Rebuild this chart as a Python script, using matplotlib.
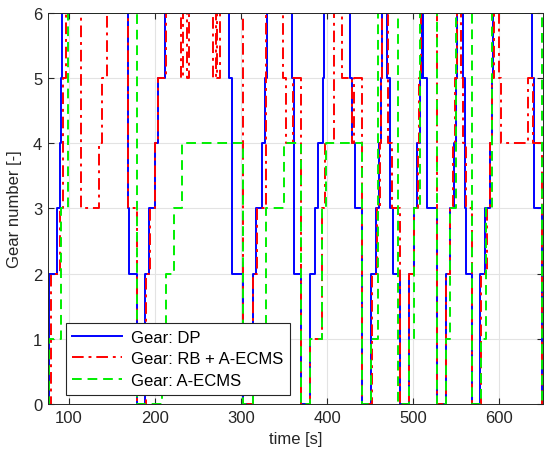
import numpy as np
import matplotlib
matplotlib.use("Agg")
import matplotlib.pyplot as plt

# gear change instants [s] and gear after each change
dp_t = [75, 76.5, 85.7, 89.5, 90.5, 91.5, 168.2, 170, 178.7, 188.8, 192.6, 199.6, 203.5, 212,
        286, 289.5, 302.7, 314.3, 317.4, 324.4, 327.9, 329.8, 359, 361.5, 370.3, 380.6, 385.7,
        389.5, 395, 396.5, 427, 429, 433, 440.5, 451.5, 456.6, 460.5, 462.5, 464, 470.2, 473,
        476.7, 484.3, 494.8, 501, 505, 508, 510.5, 512, 516, 528, 538.5, 542.8, 547.5, 549.5,
        551.5, 558, 560.5, 562, 568, 578, 583.7, 589.5, 592, 593.5, 638, 640.5, 649.5]
dp_gear = [0, 2, 3, 4, 5, 6, 3, 2, 0, 2, 3, 4, 5, 6,
           5, 2, 0, 2, 3, 4, 5, 6, 5, 2, 0, 2, 3,
           4, 5, 6, 5, 4, 3, 0, 2, 3, 4, 5, 6, 5, 3,
           2, 0, 2, 3, 4, 5, 6, 5, 3, 0, 2, 3, 4, 5,
           6, 5, 3, 2, 0, 2, 3, 4, 5, 6, 5, 3, 0]

rb_t = [75, 79.4, 89.5, 93, 96.5, 114.5, 135, 138, 144.5, 168.5, 179, 189.5, 193.8, 200.4,
        203.5, 212.5, 230, 233, 237, 240, 267.5, 271, 272, 275.5, 302.5, 314.5, 318.5, 329,
        349, 352, 361, 370.3, 380.6, 394, 398, 408, 417, 429, 431, 440.5, 452, 458.5, 462,
        463, 464, 471, 475, 484.3, 495, 501.5, 505.5, 507.5, 509.5, 527.5, 538.5, 543, 547,
        549, 551, 555.5, 558.5, 561.5, 568, 579, 585.6, 590, 592, 594, 600, 602.5, 634, 639,
        649.5]
rb_gear = [0, 2, 3, 5, 6, 3, 4, 5, 6, 3, 0, 2, 3, 4,
           5, 6, 5, 6, 5, 6, 5, 6, 5, 6, 0, 2, 3, 6,
           5, 4, 5, 0, 1, 3, 4, 6, 5, 4, 5, 0, 2, 3, 4,
           5, 6, 4, 3, 0, 2, 3, 4, 5, 6, 0, 2, 3, 4,
           5, 6, 5, 4, 3, 0, 2, 3, 4, 5, 6, 5, 4, 5, 4,
           0]

ecms_t = [75, 77, 91, 98.5, 178.7, 208, 212.8, 222, 231, 302.3, 313.6, 329, 350, 370.1,
          380.6, 394.5, 398.5, 440.3, 450.8, 459.3, 482.9, 495.3, 501.3, 508, 527.5, 538.5,
          543.5, 550, 568.5, 578.7, 585.3, 592, 649.5]
ecms_gear = [0, 1, 3, 6, 0, 1, 2, 3, 4, 0, 1, 3, 4, 0,
             1, 3, 4, 0, 1, 6, 0, 1, 3, 6, 0, 1,
             3, 6, 0, 1, 3, 6, 0]

plt.rcParams['font.family'] = ['Liberation Sans', 'DejaVu Sans']

fig = plt.figure(figsize=(5.44, 4.60), dpi=100)
ax = fig.add_axes([0.088, 0.1196, 0.910, 0.850])

ax.plot(dp_t, dp_gear, drawstyle='steps-post', color='#0000ff', lw=1.4,
        label='Gear: DP')
ax.plot(rb_t, rb_gear, drawstyle='steps-post', color='#ff0000', lw=1.4,
        dashes=(6, 2.5, 1.5, 2.5), label='Gear: RB + A-ECMS')
ax.plot(ecms_t, ecms_gear, drawstyle='steps-post', color='#00ee00', lw=1.4,
        dashes=(5, 3), label='Gear: A-ECMS')

ax.set_xlim(75.5, 651)
ax.set_ylim(0, 6)
ax.set_xticks([100, 200, 300, 400, 500, 600])
ax.set_yticks(np.arange(0, 7))
ax.grid(True, color='#e3e3e3', lw=0.8)
ax.set_axisbelow(True)
ax.tick_params(direction='in', length=4, labelsize=12, colors='#262626',
               top=True, right=True, pad=4)
for s in ax.spines.values():
    s.set_color('#262626')
    s.set_linewidth(0.7)

ax.set_xlabel('time [s]', fontsize=12, color='#262626', labelpad=5)
ax.set_ylabel('Gear number [-]', fontsize=12, color='#262626', labelpad=8)

leg = ax.legend(loc='lower left', bbox_to_anchor=(0.036, 0.024), fontsize=12,
                fancybox=False, framealpha=1, edgecolor='#262626',
                handlelength=3.0, borderpad=0.4, labelspacing=0.4,
                handletextpad=0.5, borderaxespad=0)
leg.get_frame().set_linewidth(0.8)

fig.savefig('out.png', dpi=100)
